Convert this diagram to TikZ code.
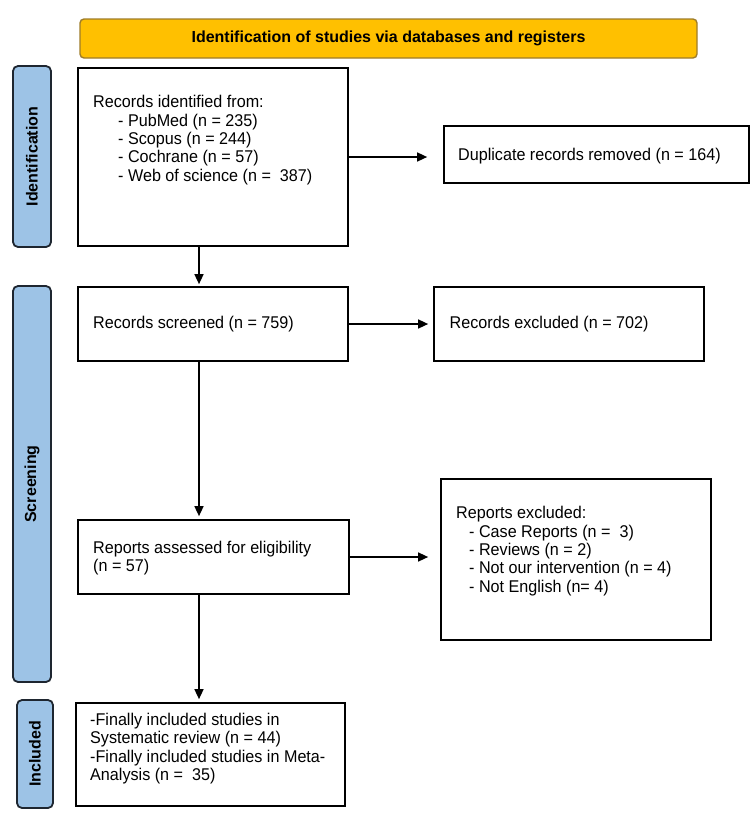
\documentclass[tikz,border=0pt]{standalone}
\usepackage{fontspec}
\setmainfont[FakeStretch=0.95]{Liberation Sans}
\newfontfamily\labelfam{Liberation Sans}
\usetikzlibrary{arrows.meta}
\definecolor{bannerfill}{HTML}{FFC000}
\definecolor{bannerdraw}{HTML}{9E7C2A}
\definecolor{phasefill}{HTML}{9DC3E6}
\definecolor{phasedraw}{HTML}{1E2630}
\tikzset{
  box/.style={draw=black, line width=1.7pt, inner sep=0pt, fill=white},
  txt/.style={anchor=west, inner sep=0pt, align=left, font=\fontsize{17}{18.4}\selectfont},
  phase/.style={draw=phasedraw, fill=phasefill, line width=1.8pt, rounded corners=5pt, inner sep=0pt},
  phasetxt/.style={rotate=90, inner sep=0pt, font=\labelfam\fontsize{16}{18}\selectfont\bfseries},
  banner/.style={draw=bannerdraw, fill=bannerfill, line width=1.4pt, rounded corners=4pt, inner sep=0pt},
  arr/.style={line width=1.5pt, -{Triangle[length=10pt,width=9pt]}}
}
\begin{document}
\begin{tikzpicture}[x=1pt,y=-1pt]
\useasboundingbox (0,0) rectangle (750,827);
% banner
\node[banner, minimum width=617pt, minimum height=39pt] (ban) at (388.5,38.5) {};
\node[inner sep=0pt, font=\labelfam\fontsize{16}{18}\selectfont\bfseries] (bantxt) at (ban.center) {Identification of studies via databases and registers};
% phase labels
\node[phase, minimum width=38pt, minimum height=181pt] (pid) at (32,156.5) {};
\node[phasetxt] (pidt) at (pid.center) {Identification};
\node[phase, minimum width=38pt, minimum height=396pt] (psc) at (32,484) {};
\node[phasetxt] (psct) at (psc.center) {Screening};
\node[phase, minimum width=36pt, minimum height=108pt] (pin) at (35,754) {};
\node[phasetxt] (pint) at (pin.center) {Included};
% boxes
\node[box, minimum width=270pt, minimum height=178pt] (b1) at (213,157) {};
\node[txt] (b1t) at (93,140) {Records identified from:\\
\hspace*{25pt}- PubMed (n = 235)\\
\hspace*{25pt}- Scopus (n = 244)\\
\hspace*{25pt}- Cochrane (n = 57)\\
\hspace*{25pt}- Web of science (n =\ \ 387)};
\node[box, minimum width=305pt, minimum height=57pt] (dup) at (596.5,154.5) {};
\node[txt] (dupt) at (458,156.5) {Duplicate records removed (n = 164)};
\node[box, minimum width=270pt, minimum height=74pt] (b2) at (213,324) {};
\node[txt] (b2t) at (93,324) {Records screened (n = 759)};
\node[box, minimum width=270pt, minimum height=74pt] (exc) at (569,324) {};
\node[txt] (exct) at (449.5,324) {Records excluded (n = 702)};
\node[box, minimum width=271pt, minimum height=74pt] (b3) at (213.5,557) {};
\node[txt] (b3t) at (93,558) {Reports assessed for eligibility\\(n = 57)};
\node[box, minimum width=270pt, minimum height=161pt] (rex) at (576,559.5) {};
\node[txt] (rext) at (456,551) {Reports excluded:\\
\hspace*{13pt}- Case Reports (n =\ \ 3)\\
\hspace*{13pt}- Reviews (n = 2)\\
\hspace*{13pt}- Not our intervention (n = 4)\\
\hspace*{13pt}- Not English (n= 4)};
\node[box, minimum width=269pt, minimum height=103pt] (b4) at (210.5,754.5) {};
\node[txt] (b4t) at (90,748.5) {-Finally included studies in\\
Systematic review (n = 44)\\
-Finally included studies in Meta-\\
Analysis (n =\ \ 35)};
% connectors
\coordinate (colx) at (199,0);
\draw[arr, shorten >=2pt] (b1.south -| colx) -- (b2.north -| colx);
\draw[arr, shorten >=3pt] (b2.south -| colx) -- (b3.north -| colx);
\draw[arr, shorten >=3pt] (b3.south -| colx) -- (b4.north -| colx);
\draw[arr, shorten >=16pt] (b1.east) -- (b1.east -| dup.west);
\draw[arr, shorten >=5pt] (b2.east) -- (b2.east -| exc.west);
\draw[arr, shorten >=12pt] (b3.east) -- (b3.east -| rex.west);
\end{tikzpicture}
\end{document}
